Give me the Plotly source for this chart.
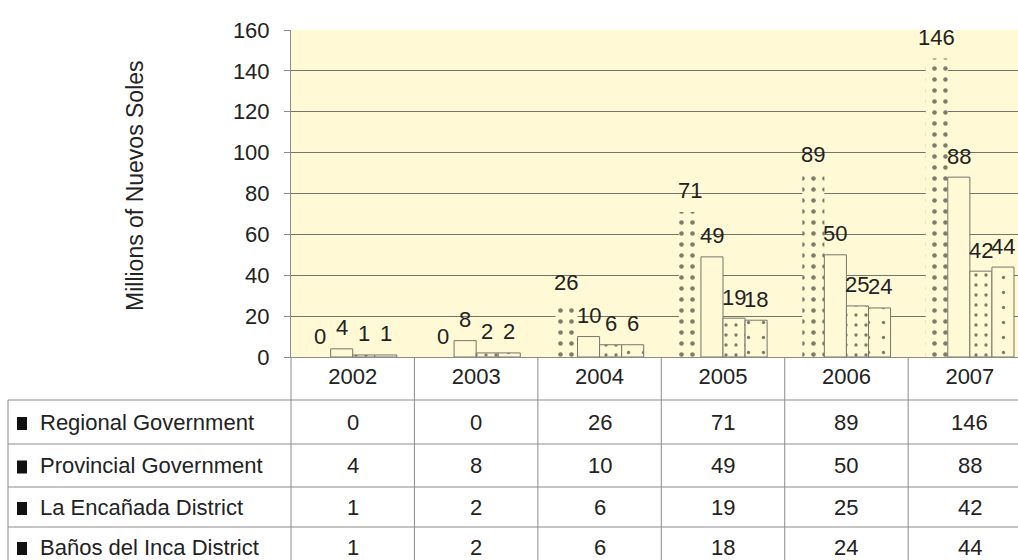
import plotly.graph_objects as go

# ---------------- data ----------------
years = ["2002", "2003", "2004", "2005", "2006", "2007"]
series_names = ["Regional Government", "Provincial Government",
                "La Encañada District", "Baños del Inca District"]
regional = [0, 0, 26, 71, 89, 146]
provincial = [4, 8, 10, 49, 50, 88]
encanada = [1, 2, 6, 19, 25, 42]
banos = [1, 2, 6, 18, 24, 44]
y_ticks = [0, 20, 40, 60, 80, 100, 120, 140, 160]
y_title = "Millions of Nuevos Soles"

series_values = [regional, provincial, encanada, banos]

# ---------------- layout constants (page pixels) ----------------
W, H = 1018, 560
PL, PT, PB = 291, 30, 357          # plot area left / top / bottom (px)
PR = W                             # plot right edge (px)
X_MAX = 5.39                       # last category is cut by the page edge
BG = "#FFF9D6"
FONT = "Liberation Sans, Arial, sans-serif"
TXT = "#222222"
TABLE_LINE = "#8c8c8c"
GRID = "#77746a"
BAR_LINE = "#77776c"
BARGAP = 0.285
FS = 22
ROW_EDGES = [400, 444, 487, 527, 567]
TABLE_LEFT = 8
KEY_X0, KEY_X1 = 17, 27
LABEL_X = 38


def py(Y):
    return (PB - Y) / (PB - PT)


def px(X):
    return (X - PL) / (PR - PL)


bar_styles = [
    dict(color=BG, line=dict(width=0),
         pattern=dict(shape=".", fgcolor="#000000", size=11, solidity=0.14, fillmode="overlay")),
    dict(color=BG, line=dict(color=BAR_LINE, width=1)),
    dict(color=BG, line=dict(color=BAR_LINE, width=1),
         pattern=dict(shape=".", fgcolor="#000000", size=10, solidity=0.09, fillmode="overlay")),
    dict(color=BG, line=dict(color=BAR_LINE, width=1),
         pattern=dict(shape=".", fgcolor="#000000", size=15, solidity=0.04, fillmode="overlay")),
]

fig = go.Figure()
for name, vals, st in zip(series_names, series_values, bar_styles):
    fig.add_trace(go.Bar(name=name, x=years, y=vals, marker=st, showlegend=False,
                         hoverinfo="skip"))

annotations = []
shapes = []
tfont = dict(family=FONT, size=FS, color=TXT)

# data labels above the bars
bw = (1 - BARGAP) / len(series_values)
for j, vals in enumerate(series_values):
    off = -(1 - BARGAP) / 2 + (j + 0.5) * bw
    for i, v in enumerate(vals):
        annotations.append(dict(x=i + off, y=v, xref="x", yref="y", text=str(v),
                                showarrow=False, yshift=21, xanchor="center",
                                yanchor="middle", font=tfont))

# y-axis title
annotations.append(dict(x=px(135), y=py(186), xref="paper", yref="paper",
                        text=y_title, textangle=-90, showarrow=False,
                        xanchor="center", yanchor="middle",
                        font=dict(family=FONT, size=23, color=TXT)))

# data table under the chart
bottom = py(ROW_EDGES[-1])
for Y in ROW_EDGES[:-1]:
    shapes.append(dict(type="line", xref="paper", yref="paper",
                       x0=px(TABLE_LEFT), x1=1, y0=py(Y), y1=py(Y),
                       line=dict(color=TABLE_LINE, width=1)))
shapes.append(dict(type="line", xref="paper", yref="paper",
                   x0=px(TABLE_LEFT), x1=px(TABLE_LEFT), y0=py(ROW_EDGES[0]), y1=bottom,
                   line=dict(color=TABLE_LINE, width=1)))
shapes.append(dict(type="line", xref="paper", yref="paper",
                   x0=0, x1=0, y0=0, y1=bottom, line=dict(color=TABLE_LINE, width=1)))
for i in range(len(years) - 1):
    shapes.append(dict(type="line", xref="x", yref="paper",
                       x0=i + 0.5, x1=i + 0.5, y0=0, y1=bottom,
                       line=dict(color=TABLE_LINE, width=1)))

for r, (name, vals) in enumerate(zip(series_names, series_values)):
    yc = (ROW_EDGES[r] + ROW_EDGES[r + 1]) / 2
    shapes.append(dict(type="rect", xref="paper", yref="paper",
                       x0=px(KEY_X0), x1=px(KEY_X1), y0=py(yc + 8), y1=py(yc - 5),
                       fillcolor="#111111", line=dict(width=0)))
    annotations.append(dict(x=px(LABEL_X), y=py(yc), xref="paper", yref="paper",
                            text=name, xanchor="left", yanchor="middle",
                            showarrow=False, font=tfont))
    for i, v in enumerate(vals):
        annotations.append(dict(x=i, y=py(yc), xref="x", yref="paper",
                                text=str(v), showarrow=False,
                                xanchor="center", yanchor="middle", font=tfont))

fig.update_layout(
    width=W, height=H,
    margin=dict(l=PL, r=W - PR, t=PT, b=H - PB, autoexpand=False),
    paper_bgcolor="white", plot_bgcolor=BG,
    barmode="group", bargap=BARGAP, bargroupgap=0,
    font=tfont, hovermode=False,
    annotations=annotations, shapes=shapes,
)
fig.update_xaxes(type="category", range=[-0.5, X_MAX], showgrid=False,
                 showline=True, linecolor=TABLE_LINE, linewidth=1,
                 ticks="", ticklabelstandoff=0,
                 tickfont=tfont, automargin=False)
fig.update_yaxes(range=[0, 160], tickvals=y_ticks, showgrid=True, gridcolor=GRID, gridwidth=1,
                 showline=True, linecolor=TABLE_LINE, linewidth=1, zeroline=False,
                 ticks="outside", ticklen=6, tickcolor=TABLE_LINE, ticklabelstandoff=10,
                 tickfont=tfont, automargin=False)

fig.write_html("out.html", config={"displayModeBar": False},
               post_script="document.body.style.margin='0';document.body.style.overflow='hidden';")
